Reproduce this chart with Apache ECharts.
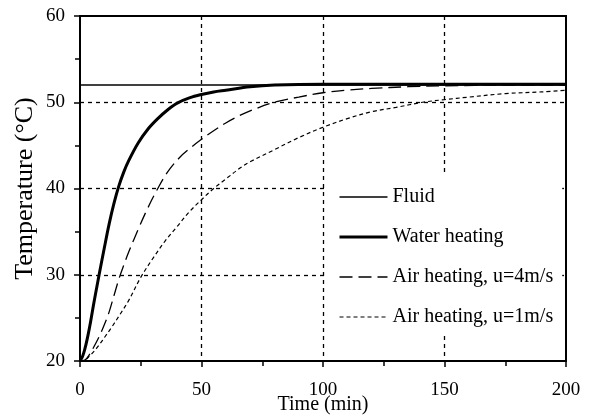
<!DOCTYPE html>
<html>
<head>
<meta charset="utf-8">
<script src="https://cdn.jsdelivr.net/npm/echarts@6/dist/echarts.min.js"></script>
<style>
  html, body { margin: 0; padding: 0; background: #fff; }
  #chart { width: 592px; height: 420px; }
</style>
</head>
<body>
<div id="chart"></div>
<script>
// values: [time (min), temperature (°C)]
var fluid = [[0, 52], [200, 52]]

var waterHeating = [
  [0, 20], [1, 20.5], [2, 21.4], [3, 22.6], [4, 24], [5, 25.6], [6, 27.2], [7, 28.7],
  [8, 30.2], [10, 33.1], [12, 35.9], [14, 38.3], [16, 40.3], [18, 41.9], [20, 43.2],
  [24, 45.3], [28, 46.9], [32, 48.1], [36, 49.1], [40, 49.9], [45, 50.5], [50, 50.9],
  [55, 51.2], [60, 51.4], [70, 51.8], [80, 52], [100, 52.1], [150, 52.1], [200, 52.1]
]

var airHeating4 = [
  [0, 20], [2, 20.1], [4, 20.8], [6, 21.8], [8, 22.9], [10, 24.2], [12, 25.7],
  [14, 27.6], [16, 29.5], [18, 31.1], [20, 32.6], [24, 35.3], [28, 37.8], [32, 40],
  [36, 41.9], [41, 43.6], [45, 44.6], [50, 45.7], [55, 46.7], [60, 47.6], [66, 48.5],
  [70, 49], [80, 50], [90, 50.6], [100, 51.1], [110, 51.4], [120, 51.6], [135, 51.8],
  [150, 51.9], [175, 52], [200, 52]
]

var airHeating1 = [
  [0, 20], [2, 20.1], [4, 20.6], [6, 21.2], [8, 21.9], [10, 22.7], [13, 23.9],
  [16, 25.2], [20, 27], [25, 29.7], [30, 31.9], [35, 33.9], [40, 35.6], [45, 37.3],
  [50, 38.7], [55, 40], [60, 41.1], [66, 42.4], [70, 43.1], [80, 44.5], [90, 45.9],
  [100, 47.1], [110, 48.1], [120, 48.9], [130, 49.4], [141, 50], [150, 50.3],
  [160, 50.6], [175, 51], [190, 51.2], [200, 51.4]
]

var seriesNames = ['Fluid', 'Water heating', 'Air heating, u=4m/s', 'Air heating, u=1m/s']
var lineWidths = [1.3, 3, 1.3, 1.2]

var font = 'Liberation Serif'
var chart = echarts.init(document.getElementById('chart'))

var axisCommon = {
  axisLine: { show: true, lineStyle: { color: '#000', width: 2 } },
  axisTick: { show: true, inside: false, length: 6, lineStyle: { color: '#000', width: 1.5 } },
  minorTick: { show: true, splitNumber: 2, length: 5, lineStyle: { color: '#000', width: 1.5 } },
  axisLabel: { color: '#000', fontFamily: font, fontSize: 19 },
  splitLine: {
    show: true, showMinLine: false, showMaxLine: false,
    lineStyle: { color: '#000', type: [4, 4], width: 1.3 }
  },
  nameLocation: 'middle',
  nameMoveOverlap: false,
  nameTextStyle: { color: '#000', fontFamily: font, fontSize: 20 }
}

var option = {
  backgroundColor: '#fff',
  animation: false,
  grid: {
    left: 80, right: 26, top: 16, bottom: 59,
    outerBoundsMode: 'none',
    show: true, borderColor: '#000', borderWidth: 2
  },
  legend: {
    data: seriesNames.map(function (n, i) {
      return { name: n, lineStyle: { width: lineWidths[i] } }
    }),
    orient: 'vertical',
    left: 328, top: 174,
    backgroundColor: '#fff',
    padding: [13, 9, 8, 10],
    itemWidth: 48, itemHeight: 20, itemGap: 20,
    itemStyle: { color: 'rgba(0,0,0,0)', borderWidth: 0, opacity: 0 },
    textStyle: { color: '#000', fontFamily: font, fontSize: 20, lineHeight: 20 }
  },
  xAxis: Object.assign({}, axisCommon, {
    type: 'value', min: 0, max: 200, interval: 50,
    name: 'Time (min)', nameGap: 34,
    axisLabel: Object.assign({}, axisCommon.axisLabel, { margin: 20 })
  }),
  yAxis: Object.assign({}, axisCommon, {
    type: 'value', min: 20, max: 60, interval: 10,
    name: 'Temperature (°C)', nameGap: 42,
    nameTextStyle: { color: '#000', fontFamily: font, fontSize: 26 },
    axisLabel: Object.assign({}, axisCommon.axisLabel, { margin: 15 })
  }),
  series: [
    {
      name: seriesNames[0], type: 'line', data: fluid, showSymbol: false, symbol: 'none',
      lineStyle: { color: '#000', width: lineWidths[0], type: 'solid' }, itemStyle: { color: '#000' }
    },
    {
      name: seriesNames[1], type: 'line', data: waterHeating, showSymbol: false, symbol: 'none',
      smooth: 0.35,
      lineStyle: { color: '#000', width: lineWidths[1], type: 'solid' }, itemStyle: { color: '#000' }
    },
    {
      name: seriesNames[2], type: 'line', data: airHeating4, showSymbol: false, symbol: 'none',
      smooth: 0.35,
      lineStyle: { color: '#000', width: lineWidths[2], type: [13, 6] }, itemStyle: { color: '#000' }
    },
    {
      name: seriesNames[3], type: 'line', data: airHeating1, showSymbol: false, symbol: 'none',
      smooth: 0.35,
      lineStyle: { color: '#000', width: lineWidths[3], type: [4, 3] }, itemStyle: { color: '#000' }
    }
  ]
}

option && chart.setOption(option)
</script>
</body>
</html>
